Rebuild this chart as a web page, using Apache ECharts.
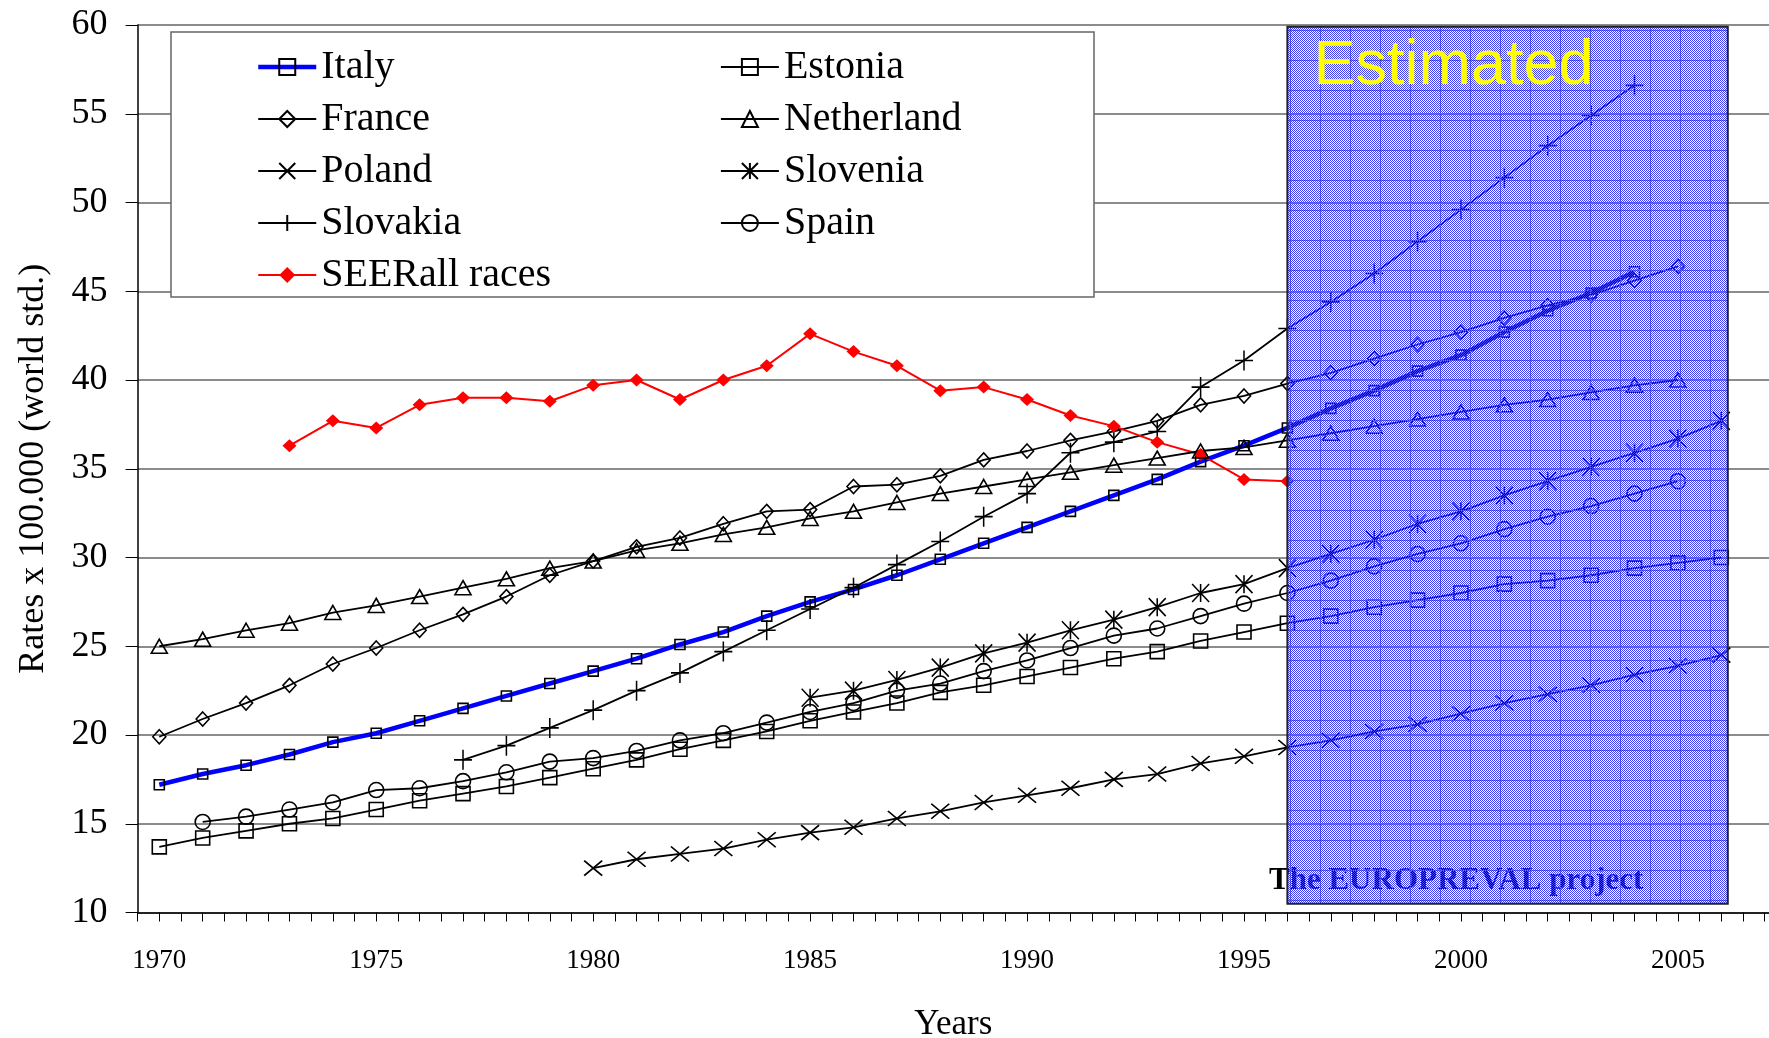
<!DOCTYPE html>
<html>
<head>
<meta charset="utf-8">
<title>Rates x 100.000</title>
<script src="https://cdn.jsdelivr.net/npm/echarts@6.0.0/dist/echarts.min.js"></script>
<style>
  html, body { margin: 0; padding: 0; background: #fff; }
  #chart { width: 1769px; height: 1038px; }
</style>
</head>
<body>
<div id="chart"></div>
<script>
// values, one array per country, starting year beside it
const italyStart = 1970;
const italy = [17.2, 17.8, 18.3, 18.9, 19.6, 20.1, 20.8, 21.5, 22.2, 22.9, 23.6, 24.3, 25.1, 25.8, 26.7, 27.5, 28.2, 29.0, 29.9, 30.8, 31.7, 32.6, 33.5, 34.4, 35.4, 36.3, 37.3, 38.4, 39.4, 40.5, 41.4, 42.7, 43.9, 44.9, 46.1];
const franceStart = 1970;
const france = [19.9, 20.9, 21.8, 22.8, 24.0, 24.9, 25.9, 26.8, 27.8, 29.0, 29.8, 30.6, 31.1, 31.9, 32.6, 32.7, 34.0, 34.1, 34.6, 35.5, 36.0, 36.6, 37.1, 37.7, 38.6, 39.1, 39.8, 40.4, 41.2, 42.0, 42.7, 43.5, 44.2, 44.8, 45.6, 46.4];
const polandStart = 1980;
const poland = [12.5, 13.0, 13.3, 13.6, 14.1, 14.5, 14.8, 15.3, 15.7, 16.2, 16.6, 17.0, 17.5, 17.8, 18.4, 18.8, 19.3, 19.7, 20.2, 20.6, 21.2, 21.8, 22.3, 22.8, 23.4, 23.9, 24.5];
const slovakiaStart = 1977;
const slovakia = [18.6, 19.4, 20.4, 21.4, 22.5, 23.5, 24.7, 25.9, 27.1, 28.3, 29.6, 30.9, 32.3, 33.6, 35.9, 36.5, 37.1, 39.6, 41.1, 42.9, 44.4, 46.0, 47.8, 49.6, 51.4, 53.2, 54.9, 56.6];
const seerStart = 1973;
const seer = [36.3, 37.7, 37.3, 38.6, 39.0, 39.0, 38.8, 39.7, 40.0, 38.9, 40.0, 40.8, 42.6, 41.6, 40.8, 39.4, 39.6, 38.9, 38.0, 37.4, 36.5, 35.8, 34.4, 34.3];
const estoniaStart = 1970;
const estonia = [13.7, 14.2, 14.6, 15.0, 15.3, 15.8, 16.3, 16.7, 17.1, 17.6, 18.1, 18.6, 19.2, 19.7, 20.2, 20.8, 21.3, 21.8, 22.4, 22.8, 23.3, 23.8, 24.3, 24.7, 25.3, 25.8, 26.3, 26.7, 27.2, 27.6, 28.0, 28.5, 28.7, 29.0, 29.4, 29.7, 30.0];
const netherlandStart = 1970;
const netherland = [25.0, 25.4, 25.9, 26.3, 26.9, 27.3, 27.8, 28.3, 28.8, 29.4, 29.8, 30.4, 30.8, 31.3, 31.7, 32.2, 32.6, 33.1, 33.6, 34.0, 34.4, 34.8, 35.2, 35.6, 36.0, 36.2, 36.6, 37.0, 37.4, 37.8, 38.2, 38.6, 38.9, 39.3, 39.7, 40.0];
const sloveniaStart = 1985;
const slovenia = [22.1, 22.5, 23.1, 23.8, 24.6, 25.2, 25.9, 26.5, 27.2, 28.0, 28.5, 29.4, 30.2, 31.0, 31.9, 32.6, 33.5, 34.3, 35.1, 35.9, 36.7, 37.7];
const spainStart = 1971;
const spain = [15.1, 15.4, 15.8, 16.2, 16.9, 17.0, 17.4, 17.9, 18.5, 18.7, 19.1, 19.7, 20.1, 20.7, 21.3, 21.8, 22.5, 22.9, 23.6, 24.2, 24.9, 25.6, 26.0, 26.7, 27.4, 28.0, 28.7, 29.5, 30.2, 30.8, 31.6, 32.3, 32.9, 33.6, 34.3];

// the shaded "Estimated" block, in data units
const estimatedYears = [1996, 2006.15];
const estimatedRates = [10.5, 59.9];

const serif = 'Liberation Serif';

const toPairs = (start, values) => values.map((v, i) => [start + i, v]);

// dithered blue texture with a faint grid, like the old office fill
const tex = document.createElement('canvas');
tex.width = 30;
tex.height = 30;
const tctx = tex.getContext('2d');
for (let y = 0; y < 30; y++) {
  for (let x = 0; x < 30; x++) {
    const onGrid = x === 0 || y === 0;
    if ((x + y) % 2 === 0) {
      tctx.fillStyle = onGrid ? 'rgb(40,40,220)' : 'rgb(62,62,238)';
      tctx.fillRect(x, y, 1, 1);
    } else if (onGrid) {
      tctx.fillStyle = 'rgb(120,120,240)';
      tctx.fillRect(x, y, 1, 1);
    }
  }
}

const hollow = { color: 'rgba(0,0,0,0)', borderColor: '#000', borderWidth: 1.6 };

function makeLine(name, start, values, symbol, size, lineStyle, itemStyle) {
  return {
    name: name,
    type: 'line',
    data: toPairs(start, values),
    symbol: symbol,
    symbolSize: size,
    lineStyle: lineStyle || { color: '#000', width: 1.8 },
    itemStyle: itemStyle || hollow,
    emphasis: { disabled: true }
  };
}

const series = [
  makeLine('Italy', italyStart, italy, 'rect', 10, { color: '#0000ff', width: 4.5 }),
  makeLine('France', franceStart, france, 'diamond', [13, 14]),
  makeLine('Poland', polandStart, poland, 'path://M0,0L10,10M10,0L0,10', [18, 15]),
  makeLine('Slovakia', slovakiaStart, slovakia, 'path://M5,0L5,10M0,5L10,5', [18, 20]),
  makeLine('SEERall races', seerStart, seer, 'diamond', [14, 13],
    { color: '#ff0000', width: 2 }, { color: '#ff0000', borderWidth: 0 }),
  makeLine('Estonia', estoniaStart, estonia, 'rect', 14),
  makeLine('Netherland', netherlandStart, netherland, 'triangle', [16, 14]),
  makeLine('Slovenia', sloveniaStart, slovenia, 'path://M5,0L5,10M0,0L10,10M10,0L0,10', [17, 18]),
  makeLine('Spain', spainStart, spain, 'circle', 15)
];

series[0].markArea = {
  z: 20,
  silent: true,
  itemStyle: { color: { image: tex, repeat: 'repeat' }, borderColor: '#222', borderWidth: 2, opacity: 1 },
  label: {
    show: true,
    formatter: 'Estimated',
    position: [27, 9],
    color: '#ffff00',
    fontSize: 63,
    fontFamily: 'Liberation Sans'
  },
  data: [[
    { coord: [estimatedYears[0], estimatedRates[0]] },
    { coord: [estimatedYears[1], estimatedRates[1]] }
  ]]
};

const legendText = { fontFamily: serif, fontSize: 40, lineHeight: 40, color: '#000' };

const option = {
  animation: false,
  backgroundColor: '#fff',
  grid: { left: 137.6, right: 0, top: 25, bottom: 125.5, containLabel: false, outerBoundsMode: 'none' },
  legend: [
    {
      data: ['Italy', 'France', 'Poland', 'Slovakia', 'SEERall races'],
      orient: 'vertical', left: 256, top: 47, padding: 0,
      itemWidth: 58, itemHeight: 20, itemGap: 12,
      lineStyle: { width: 'inherit' },
      selectedMode: false, textStyle: legendText
    },
    {
      data: ['Estonia', 'Netherland', 'Slovenia', 'Spain'],
      orient: 'vertical', left: 720, top: 47, padding: 0,
      itemWidth: 58, itemHeight: 20, itemGap: 12,
      lineStyle: { width: 'inherit' },
      selectedMode: false, textStyle: legendText
    }
  ],
  xAxis: {
    type: 'value',
    min: 1969.5,
    max: 2007.1,
    interval: 0.5,
    axisLine: { lineStyle: { color: '#000', width: 1.5 } },
    axisTick: { length: 9, lineStyle: { color: '#000' } },
    axisLabel: {
      fontFamily: serif, fontSize: 27, color: '#000', margin: 35,
      formatter: v => (Math.abs(v % 5) < 1e-6 ? String(Math.round(v)) : '')
    },
    splitLine: { show: false },
    name: 'Years',
    nameLocation: 'middle',
    nameGap: 95,
    nameTextStyle: { fontFamily: serif, fontSize: 35, color: '#000' }
  },
  yAxis: {
    type: 'value',
    min: 10,
    max: 60,
    interval: 5,
    axisLine: { show: true, lineStyle: { color: '#000', width: 1.5 } },
    axisTick: { show: true, length: 12, lineStyle: { color: '#000' } },
    axisLabel: { fontFamily: serif, fontSize: 36, color: '#000', margin: 30 },
    splitLine: { lineStyle: { color: '#666', width: 1.5 } },
    name: 'Rates x 100.000 (world std.)',
    nameLocation: 'middle',
    nameGap: 86,
    nameRotate: 90,
    nameTextStyle: { fontFamily: serif, fontSize: 36, color: '#000' }
  },
  graphic: [
    {
      type: 'rect', z: 3,
      shape: { x: 171, y: 32, width: 923, height: 265 },
      style: { fill: '#fff', stroke: '#666', lineWidth: 1.5 }
    },
    {
      type: 'text', z: 10, x: 1269, y: 881,
      style: { text: 'The EUROPREVAL project', font: 'bold 31px "Liberation Serif"', fill: '#000', verticalAlign: 'middle' }
    }
  ],
  series: series
};

const chart = echarts.init(document.getElementById('chart'));
chart.setOption(option);
window.addEventListener('resize', () => {
  chart.resize();
});
</script>
</body>
</html>
